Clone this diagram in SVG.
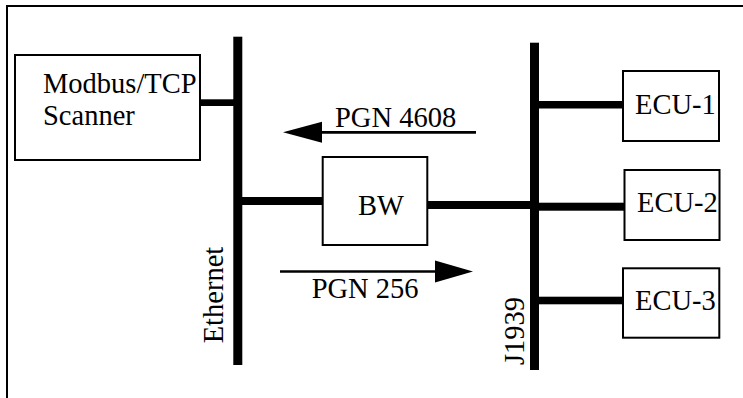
<svg xmlns="http://www.w3.org/2000/svg" width="743" height="398" viewBox="0 0 743 398">
<style>
.box{fill:#fff;stroke:#000;stroke-width:2}
.bus{fill:#000}
.t{font-family:"Liberation Serif","Times New Roman",serif;font-size:28.5px;fill:#000}
.frame{fill:none;stroke:#000;stroke-width:2}
.arr{stroke:#000;stroke-width:2.7;fill:none}
</style>
<rect width="743" height="398" fill="#fff"/>
<path class="frame" d="M7,398 V6 H743"/>
<g id="connectors">
<rect class="bus" x="196" y="99.3" width="42" height="6.7"/>
<rect class="bus" x="238" y="197" width="85" height="8"/>
<rect class="bus" x="427" y="201" width="107" height="8"/>
<rect class="bus" x="534" y="101" width="93" height="7.5"/>
<rect class="bus" x="534" y="202.7" width="92" height="8"/>
<rect class="bus" x="534" y="296.7" width="93" height="7.6"/>
<line class="arr" x1="476" y1="132.3" x2="320" y2="132.3"/>
<polygon points="283,132.3 322,121.7 322,142.7" fill="#000"/>
<line class="arr" x1="280" y1="271.5" x2="437" y2="271.5"/>
<polygon points="473,271.5 435,260.5 435,282.5" fill="#000"/>
</g>
<g id="ethernet">
<rect class="bus" x="233.3" y="36.7" width="9" height="328.3"/>
<text class="t" transform="translate(223,343.3) rotate(-90)">Ethernet</text>
</g>
<g id="j1939">
<rect class="bus" x="530" y="42.7" width="9" height="327.3"/>
<text class="t" transform="translate(524,365) rotate(-90)">J1939</text>
</g>
<g id="scanner">
<rect class="box" x="15" y="55" width="185" height="105"/>
<text class="t" x="43" y="93">Modbus/TCP</text>
<text class="t" x="43" y="125">Scanner</text>
</g>
<g id="bw">
<rect class="box" x="322.7" y="157" width="104.6" height="88"/>
<text class="t" x="358" y="215">BW</text>
</g>
<g id="ecu1">
<rect class="box" x="623" y="71" width="96" height="70"/>
<text class="t" x="635" y="114">ECU-1</text>
</g>
<g id="ecu2">
<rect class="box" x="624.5" y="170" width="95" height="70"/>
<text class="t" x="637" y="211.7">ECU-2</text>
</g>
<g id="ecu3">
<rect class="box" x="623" y="268.3" width="96.3" height="69.4"/>
<text class="t" x="635" y="310">ECU-3</text>
</g>
<text class="t" x="335" y="126.7">PGN 4608</text>
<text class="t" x="311.7" y="298.3">PGN 256</text>
</svg>
